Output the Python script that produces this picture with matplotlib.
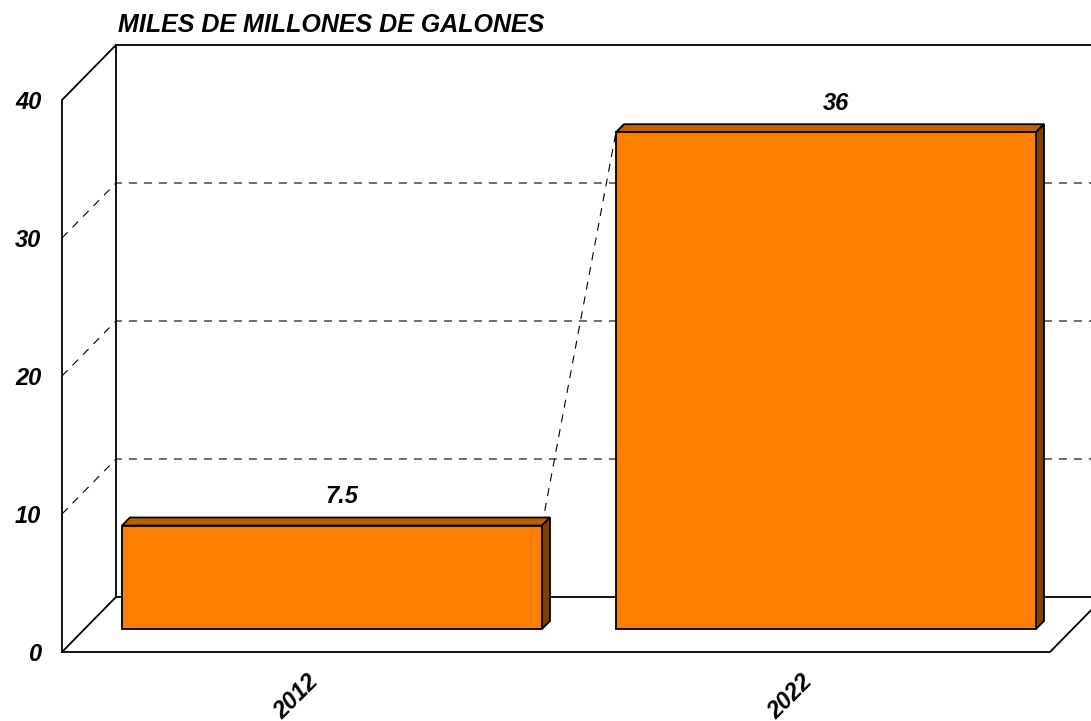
import matplotlib
matplotlib.use("Agg")
import matplotlib.pyplot as plt
from matplotlib.patches import Polygon

years = ["2012", "2022"]
values = [7.5, 36]
value_labels = ["7.5", "36"]
y_ticks = [0, 10, 20, 30, 40]
grid_values = [10, 20, 30]
title = "MILES DE MILLONES DE GALONES"

FRONT = "#FF8000"
TOP = "#C06000"
SIDE = "#804000"

W, H = 1091, 721
LEFT, RIGHT, BOTTOM, TOP_PX = 62, 1050, 652, 100

plt.rcParams["font.family"] = ["Liberation Sans", "DejaVu Sans"]
plt.rcParams["font.weight"] = "bold"
plt.rcParams["font.style"] = "italic"

fig = plt.figure(figsize=(W / 100, H / 100), dpi=100)
ax = fig.add_axes([LEFT / W, 1 - BOTTOM / H, (RIGHT - LEFT) / W, (BOTTOM - TOP_PX) / H])
ax.set_xlim(-0.5, 1.5)
ax.set_ylim(0, 40)
for s in ax.spines.values():
    s.set_visible(False)

# one pixel in data units
px = 2 / (RIGHT - LEFT)
py = 40 / (BOTTOM - TOP_PX)

# depth of the back wall, of the bars and how far the bars stand off the floor edge
wall_x, wall_y = 54 * px, 55 * py
depth_x, depth_y = 8 * px, 8 * py
off_x, off_y = 23 * px, 23 * py
x0, x1 = -0.5, 1.5
ymax = 40
lw = 1.3
dash_lw = 0.8
dashes = (0, (7.2, 6.3))

# floor and walls
ax.plot([x0, x1, x1 + wall_x], [0, 0, wall_y], color="black", lw=lw, clip_on=False, zorder=1)
ax.plot([x0, x0 + wall_x, x1 + wall_x], [0, wall_y, wall_y], color="black", lw=lw, clip_on=False, zorder=1)
ax.plot([x0, x0, x0 + wall_x, x0 + wall_x], [0, ymax, ymax + wall_y, wall_y], color="black", lw=lw, clip_on=False, zorder=1)
ax.plot([x0 + wall_x, x1 + wall_x], [ymax + wall_y, ymax + wall_y], color="black", lw=lw, clip_on=False, zorder=1)

for g in grid_values:
    ax.plot([x0, x0 + wall_x, x1 + wall_x], [g, g + wall_y, g + wall_y], color="black", lw=dash_lw,
            ls=dashes, clip_on=False, zorder=1)

width = 420 / 494
centers = list(range(len(values)))
centers_off = [c + off_x for c in centers]

# dashed line joining the bar tops
ax.plot([centers_off[0] + width / 2, centers_off[1] - width / 2],
        [values[0] + off_y, values[1] + off_y],
        color="black", lw=dash_lw, ls=dashes, clip_on=False, zorder=2)

ax.bar(centers_off, values, width=width, bottom=off_y, color=FRONT, edgecolor="black", linewidth=lw, zorder=4)

for c, v, lab in zip(centers_off, values, value_labels):
    l, r = c - width / 2, c + width / 2
    t = v + off_y
    ax.add_patch(Polygon([(l, t), (l + depth_x, t + depth_y), (r + depth_x, t + depth_y), (r, t)],
                         facecolor=TOP, edgecolor="black", linewidth=lw, zorder=3, clip_on=False))
    ax.add_patch(Polygon([(r, off_y), (r + depth_x, off_y + depth_y), (r + depth_x, t + depth_y), (r, t)],
                         facecolor=SIDE, edgecolor="black", linewidth=lw, zorder=3, clip_on=False))
    ax.text(c + 10 * px, t + 29 * py, lab, ha="center", va="center", fontsize=17, zorder=5, clip_on=False)

ax.set_yticks(y_ticks)
ax.set_yticklabels([str(t) for t in y_ticks], fontsize=17)
ax.set_xticks([c - 13 * px for c in centers])
ax.set_xticklabels(years, fontsize=17, rotation=45, ha="center", va="center", rotation_mode="anchor")
ax.tick_params(axis="both", length=0)
ax.tick_params(axis="y", pad=15)
ax.tick_params(axis="x", pad=32)

fig.text(118 / W, 1 - 25 / H, title, fontsize=18, va="center", ha="left")

fig.savefig("out.png", dpi=100)
